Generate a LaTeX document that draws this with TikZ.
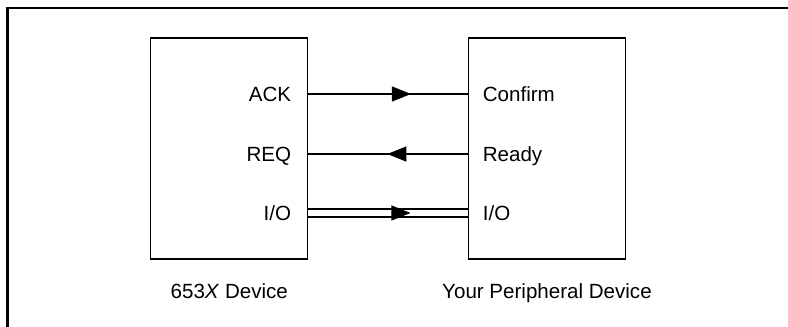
\documentclass[tikz,border=0pt]{standalone}
\usepackage{fontspec}
\setmainfont{Liberation Sans}
\usetikzlibrary{arrows.meta,decorations.markings}

\tikzset{
  box/.style={draw, line width=0.6pt, minimum width=3.14cm, minimum height=4.42cm, inner sep=0pt},
  lbl/.style={inner sep=0pt, text depth=0pt, font=\fontsize{11.7}{14}\selectfont},
  tip/.style={decoration={markings, mark=at position #1 with {\arrow{Triangle[length=0.38cm,width=0.3cm]}}}, decorate},
  sig/.style={line width=0.6pt, postaction={tip=#1}},
  bus/.style={line width=0.6pt, double, double distance=0.139cm},
  frame/.style={line width=1.4pt}
}

\begin{document}
\begin{tikzpicture}
      \useasboundingbox (0,0) rectangle (15.76,-6.52);
      \draw[frame] (0.15,-6.6) -- (0.15,-0.16) -- (15.9,-0.16);
      \draw (4.585,-2.97) node[box] (dev) {};
      \draw (10.94,-2.97) node[box] (per) {};
      \draw (5.83,-1.88) node[lbl,anchor=east] (ack) {ACK};
      \draw (5.83,-3.08) node[lbl,anchor=east] (req) {REQ};
      \draw (5.83,-4.26) node[lbl,anchor=east] (io) {I/O};
      \draw (9.65,-1.88) node[lbl,anchor=west] (confirm) {Confirm};
      \draw (9.65,-3.08) node[lbl,anchor=west] (ready) {Ready};
      \draw (9.65,-4.26) node[lbl,anchor=west] (perio) {I/O};
%%%%%%%%%%%%%%%%%%%%%%%%%%%%%%%%%%%%%%%%%%%%%%%%%%%%%%%%%%%%%%%%%%%%%%%
      \draw[sig=0.643] (dev.east |- ack) -- (per.west |- ack);
      \draw[sig=0.505] (per.west |- req) -- (dev.east |- req);
      \draw[bus] (dev.east |- io) -- (per.west |- io);
      \path[tip=0.64] (dev.east |- io) -- (per.west |- io);
      \draw (4.585,-5.97) node[lbl,anchor=base] (devname) {653\textit{X} Device};
      \draw (10.94,-5.97) node[lbl,anchor=base] (pername) {Your Peripheral Device};
\end{tikzpicture}
\end{document}
